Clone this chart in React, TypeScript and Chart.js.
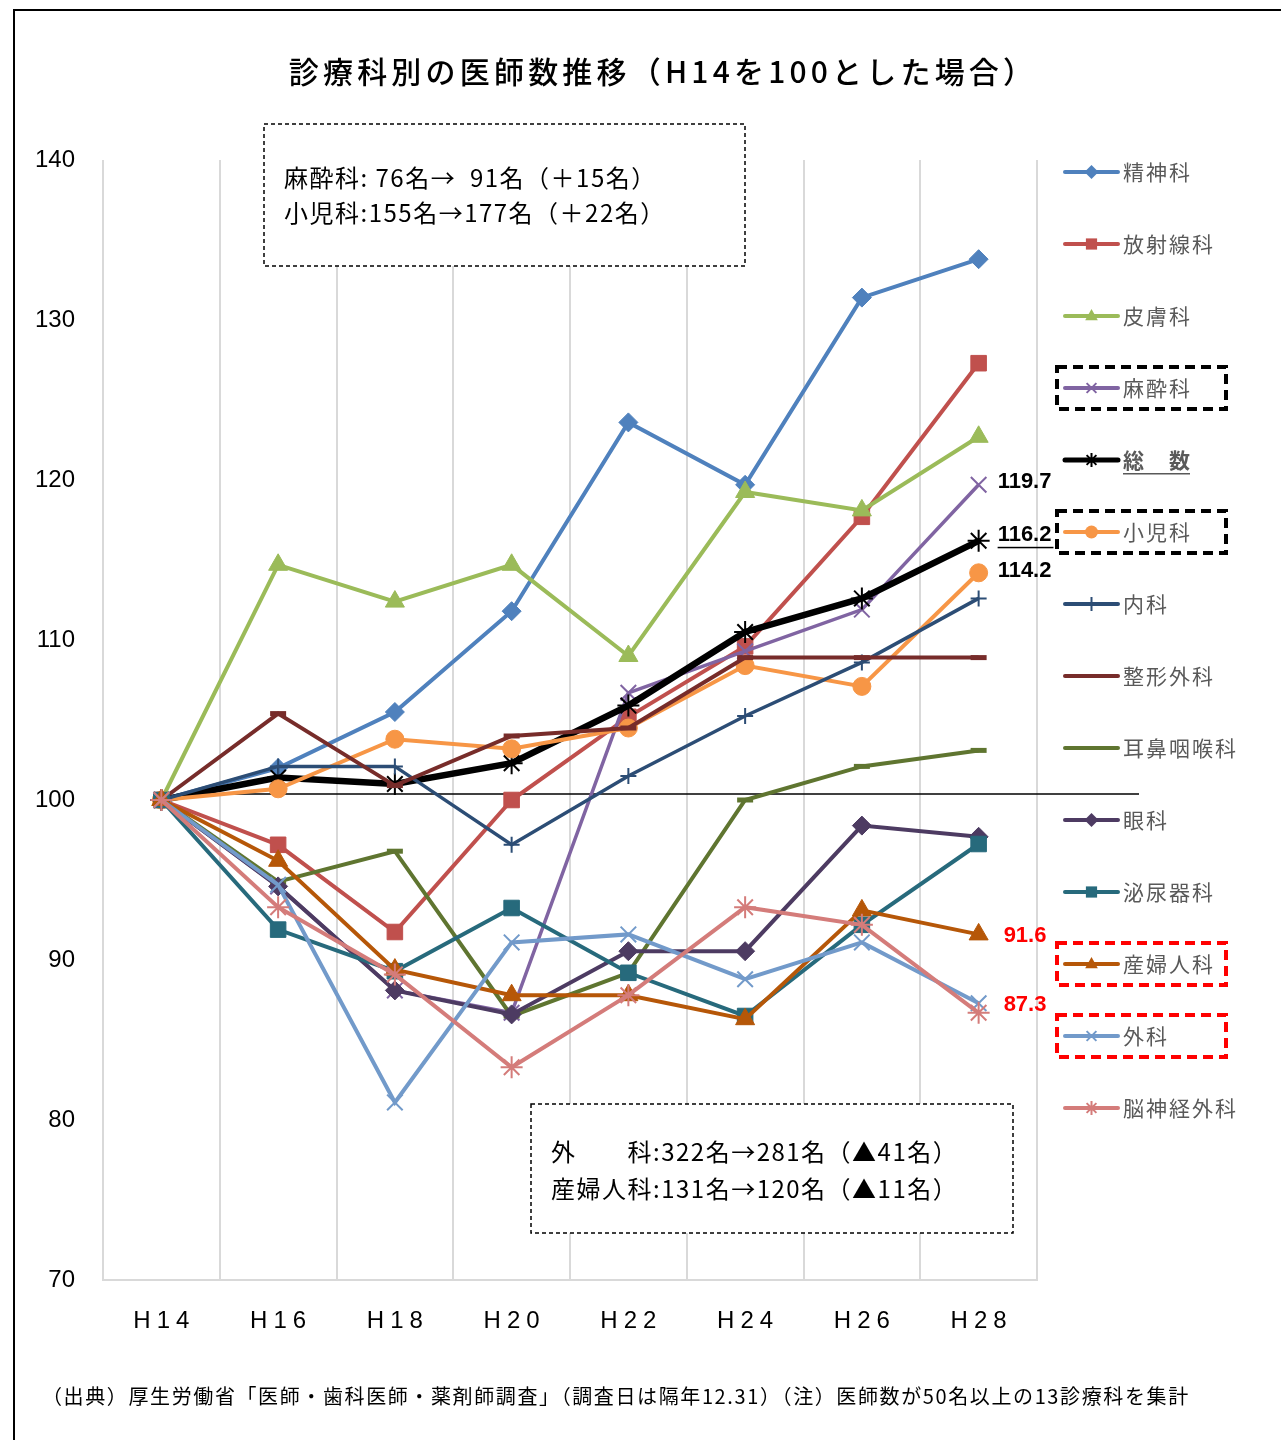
import React, { useEffect, useRef } from "react";
import { Chart, registerables } from "chart.js";

Chart.register(...registerables);

const categories = ["H14", "H16", "H18", "H20", "H22", "H24", "H26", "H28"];
const yTickValues = [70, 80, 90, 100, 110, 120, 130, 140];

const seriesNames = [
  "精神科", "放射線科", "皮膚科", "麻酔科", "総　数", "小児科", "内科",
  "整形外科", "耳鼻咽喉科", "眼科", "泌尿器科", "産婦人科", "外科", "脳神経外科",
];

const psychiatry = [100, 102.0, 105.5, 111.8, 123.6, 119.7, 131.4, 133.8];
const radiology = [100, 97.2, 91.75, 100.0, 105.2, 109.6, 117.7, 127.3];
const dermatology = [100, 114.7, 112.4, 114.7, 109.0, 119.25, 118.1, 122.7];
const anesthesiology = [100, 94.6, 88.1, 86.7, 106.7, 109.3, 111.9, 119.7];
const total = [100, 101.4, 101.0, 102.3, 105.9, 110.5, 112.6, 116.2];
const pediatrics = [100, 100.7, 103.8, 103.2, 104.5, 108.4, 107.1, 114.2];
const internal = [100, 102.1, 102.1, 97.2, 101.5, 105.25, 108.6, 112.6];
const orthopedics = [100, 105.4, 100.9, 104.0, 104.5, 108.9, 108.9, 108.9];
const ent = [100, 94.9, 96.8, 86.5, 89.2, 100.0, 102.1, 103.1];
const ophthalmology = [100, 94.6, 88.1, 86.6, 90.55, 90.55, 98.4, 97.7];
const urology = [100, 91.9, 89.3, 93.25, 89.2, 86.5, 92.2, 97.25];
const obstetrics = [100, 96.2, 89.4, 87.8, 87.8, 86.3, 93.1, 91.6];
const surgery = [100, 94.7, 81.1, 91.1, 91.6, 88.8, 91.1, 87.3];
const neurosurgery = [100, 93.3, 89.1, 83.3, 87.8, 93.3, 92.2, 86.7];

const seriesValues = [
  psychiatry, radiology, dermatology, anesthesiology, total, pediatrics, internal,
  orthopedics, ent, ophthalmology, urology, obstetrics, surgery, neurosurgery,
];

const seriesColors = [
  "#4F81BD", "#C0504D", "#9BBB59", "#8064A2", "#000000", "#F79646", "#2C4D75",
  "#772C2A", "#5F7530", "#4D3B62", "#276A7C", "#B65708", "#729ACA", "#D47C7A",
];
const seriesMarkers = [
  "rectRot", "rect", "triangle", "crossRot", "star", "circle", "cross",
  "line", "line", "rectRot", "rect", "triangle", "crossRot", "star",
];
const markerRadius = [9.5, 11, 11, 11, 11, 9, 8, 8, 8, 9.5, 11, 11, 11, 11];
const lineWidths = [4, 4, 4, 3.5, 6.5, 4, 3.5, 4, 4, 4, 4, 4, 4, 4];

const titleText = "診療科別の医師数推移（H14を100とした場合）";
const topBoxLines = ["麻酔科: 76名→  91名（＋15名）", "小児科:155名→177名（＋22名）"];
const bottomBoxLines = ["外　　科:322名→281名（▲41名）", "産婦人科:131名→120名（▲11名）"];
const footerText = "（出典）厚生労働省「医師・歯科医師・薬剤師調査」（調査日は隔年12.31）（注）医師数が50名以上の13診療科を集計";

// labels at the right end: [series index, color, underline]
const endLabels: [number, string, boolean][] = [
  [3, "#000000", false],
  [4, "#000000", true],
  [5, "#000000", false],
  [11, "#FF0000", false],
  [12, "#FF0000", false],
];

const legendBoxes: [number, string][] = [
  [3, "#000000"],
  [5, "#000000"],
  [11, "#FF0000"],
  [12, "#FF0000"],
];

const JP = '"Noto Sans CJK JP", "Noto Sans", sans-serif';
const NUM = '"Liberation Sans", Arial, sans-serif';

function drawMarker(ctx: CanvasRenderingContext2D, style: string, x: number, y: number, r: number, color: string) {
  ctx.save();
  ctx.fillStyle = color;
  ctx.strokeStyle = color;
  ctx.lineWidth = 2;
  ctx.beginPath();
  if (style === "rectRot") {
    ctx.moveTo(x, y - r); ctx.lineTo(x + r, y); ctx.lineTo(x, y + r); ctx.lineTo(x - r, y); ctx.closePath(); ctx.fill();
  } else if (style === "rect") {
    ctx.fillRect(x - r * 0.8, y - r * 0.8, r * 1.6, r * 1.6);
  } else if (style === "triangle") {
    ctx.moveTo(x, y - r); ctx.lineTo(x + r * 0.9, y + r * 0.6); ctx.lineTo(x - r * 0.9, y + r * 0.6); ctx.closePath(); ctx.fill();
  } else if (style === "circle") {
    ctx.arc(x, y, r, 0, Math.PI * 2); ctx.fill();
  } else if (style === "crossRot") {
    ctx.moveTo(x - r * 0.7, y - r * 0.7); ctx.lineTo(x + r * 0.7, y + r * 0.7);
    ctx.moveTo(x + r * 0.7, y - r * 0.7); ctx.lineTo(x - r * 0.7, y + r * 0.7); ctx.stroke();
  } else if (style === "cross") {
    ctx.moveTo(x, y - r); ctx.lineTo(x, y + r); ctx.stroke();
  } else if (style === "star") {
    ctx.moveTo(x - r * 0.7, y - r * 0.7); ctx.lineTo(x + r * 0.7, y + r * 0.7);
    ctx.moveTo(x + r * 0.7, y - r * 0.7); ctx.lineTo(x - r * 0.7, y + r * 0.7);
    ctx.moveTo(x, y - r); ctx.lineTo(x, y + r); ctx.stroke();
  }
  ctx.restore();
}

const decorPlugin = {
  id: "decor",
  beforeDraw(chart: any) {
    const ctx: CanvasRenderingContext2D = chart.ctx;
    ctx.save();
    ctx.fillStyle = "#FFFFFF";
    ctx.fillRect(0, 0, chart.width, chart.height);
    ctx.restore();
  },
  beforeDatasetsDraw(chart: any) {
    const ctx: CanvasRenderingContext2D = chart.ctx;
    const xs = chart.scales.x;
    const ys = chart.scales.y;
    ctx.save();
    ctx.strokeStyle = "#000000";
    ctx.lineWidth = 1.5;
    const y100 = ys.getPixelForValue(100) - 6;
    ctx.beginPath();
    ctx.moveTo(xs.getPixelForValue(0) + 52, y100);
    ctx.lineTo(1139, y100);
    ctx.stroke();
    ctx.restore();
  },
  afterDraw(chart: any) {
    const ctx: CanvasRenderingContext2D = chart.ctx;
    const xs = chart.scales.x;
    const ys = chart.scales.y;
    ctx.save();
    // outer frame
    ctx.strokeStyle = "#000000";
    ctx.lineWidth = 2;
    ctx.beginPath();
    ctx.moveTo(14, chart.height);
    ctx.lineTo(14, 10);
    ctx.lineTo(chart.width, 10);
    ctx.stroke();

    // title
    ctx.fillStyle = "#000000";
    ctx.font = `500 30px ${JP}`;
    (ctx as any).letterSpacing = "4.2px";
    ctx.textAlign = "center";
    ctx.textBaseline = "middle";
    ctx.fillText(titleText, 663, 72);
    (ctx as any).letterSpacing = "0px";

    // x tick labels
    ctx.font = `24px ${NUM}`;
    (ctx as any).letterSpacing = "6px";
    ctx.textAlign = "center";
    categories.forEach((c, i) => {
      ctx.fillText(c, xs.getPixelForValue(i) + 3, 1321);
    });
    (ctx as any).letterSpacing = "0px";

    // text boxes
    const box = (x0: number, y0: number, x1: number, y1: number, lines: string[], tx: number, ty: number[]) => {
      ctx.save();
      ctx.fillStyle = "#FFFFFF";
      ctx.fillRect(x0, y0, x1 - x0, y1 - y0);
      ctx.setLineDash([4, 3]);
      ctx.lineWidth = 1.5;
      ctx.strokeStyle = "#000000";
      ctx.strokeRect(x0, y0, x1 - x0, y1 - y0);
      ctx.restore();
      ctx.fillStyle = "#000000";
      ctx.font = `24px ${JP}`;
      (ctx as any).letterSpacing = "1.5px";
      ctx.textAlign = "left";
      ctx.textBaseline = "middle";
      lines.forEach((l, i) => ctx.fillText(l, tx, ty[i]));
      (ctx as any).letterSpacing = "0px";
    };
    box(264, 124, 745, 266, topBoxLines, 284, [178, 213]);
    box(531, 1104, 1013, 1233, bottomBoxLines, 551, [1152, 1189]);

    // end labels
    ctx.font = `bold 22px ${NUM}`;
    ctx.textAlign = "left";
    ctx.textBaseline = "middle";
    endLabels.forEach(([si, color, ul]) => {
      const v = seriesValues[si][seriesValues[si].length - 1];
      const x = xs.getPixelForValue(categories.length - 1) + (color === "#000000" ? 19 : 25);
      let y = ys.getPixelForValue(v);
      if (si === 3) y -= 3;
      if (si === 4) y -= 6;
      if (si === 5) y -= 2;
      if (si === 11) y += 2;
      if (si === 12) y += 2;
      ctx.fillStyle = color;
      const label = v.toFixed(1);
      ctx.fillText(label, x, y);
      if (ul) {
        const w = ctx.measureText(label).width;
        ctx.fillRect(x, y + 12, w + 2, 1.5);
      }
    });

    // legend
    const lx0 = 1065, lx1 = 1118;
    seriesNames.forEach((name, i) => {
      const ly = 172 + 72 * i;
      ctx.save();
      ctx.strokeStyle = seriesColors[i];
      ctx.lineWidth = i === 4 ? 5 : 4;
      ctx.lineCap = "round";
      ctx.beginPath();
      ctx.moveTo(lx0, ly);
      ctx.lineTo(lx1, ly);
      ctx.stroke();
      ctx.restore();
      const st = seriesMarkers[i];
      if (st !== "line") drawMarker(ctx, st, (lx0 + lx1) / 2, ly, st === "circle" ? 6.5 : 7, seriesColors[i]);
      ctx.fillStyle = "#595959";
      ctx.font = i === 4 ? `bold 21px ${JP}` : `21px ${JP}`;
      (ctx as any).letterSpacing = "2px";
      ctx.textAlign = "left";
      ctx.textBaseline = "middle";
      ctx.fillText(name, 1123, ly);
      if (i === 4) {
        const w = ctx.measureText(name).width;
        ctx.fillRect(1123, ly + 13, w - 2, 1.5);
      }
      (ctx as any).letterSpacing = "0px";
    });
    legendBoxes.forEach(([i, color]) => {
      const ly = 172 + 72 * i;
      ctx.save();
      ctx.strokeStyle = color;
      ctx.lineWidth = 4;
      ctx.setLineDash([10, 6]);
      ctx.strokeRect(1057, ly - 21, 169, 42);
      ctx.restore();
    });

    // footer, fitted to the reference width
    ctx.fillStyle = "#000000";
    ctx.font = `20px ${JP}`;
    ctx.textAlign = "left";
    ctx.textBaseline = "middle";
    const w0 = ctx.measureText(footerText).width;
    const nChars = Array.from(footerText).length;
    const ls = (1148 - w0) / nChars;
    (ctx as any).letterSpacing = `${ls.toFixed(2)}px`;
    ctx.fillText(footerText, 42, 1396);
    (ctx as any).letterSpacing = "0px";
    ctx.restore();
  },
};

export default function App() {
  const ref = useRef<HTMLCanvasElement | null>(null);
  useEffect(() => {
    if (!ref.current) return;
    const n = seriesNames.length;
    const chart = new Chart(ref.current, {
      type: "line",
      data: {
        labels: categories,
        datasets: seriesNames.map((name, i) => ({
          label: name,
          data: seriesValues[i],
          borderColor: seriesColors[i],
          backgroundColor: seriesColors[i],
          pointBackgroundColor: seriesColors[i],
          pointBorderColor: seriesColors[i],
          pointStyle: seriesMarkers[i] as any,
          pointRadius: markerRadius[i],
          pointBorderWidth: ["crossRot", "cross", "star", "line"].includes(seriesMarkers[i]) ? (seriesMarkers[i] === "line" ? 5 : 2) : 1,
          borderWidth: lineWidths[i],
          tension: 0,
          fill: false,
          order: n - i,
        })),
      },
      options: {
        responsive: false,
        animation: false,
        devicePixelRatio: 1,
        layout: { padding: { left: 0, top: 160, right: 244, bottom: 0 } },
        plugins: { legend: { display: false }, tooltip: { enabled: false }, title: { display: false } },
        scales: {
          x: {
            offset: true,
            grid: { display: true, color: "#D9D9D9", lineWidth: 2, offset: true, drawTicks: false },
            border: { display: true, color: "#D9D9D9", width: 2 },
            ticks: { display: false },
            afterFit: (s: any) => { s.height = 160; },
          },
          y: {
            min: 70,
            max: 140,
            afterBuildTicks: (s: any) => { s.ticks = yTickValues.map((v) => ({ value: v })); },
            grid: { display: false, drawTicks: false },
            border: { display: false },
            ticks: { color: "#000000", font: { size: 24, family: NUM }, padding: 28 },
            afterFit: (s: any) => { s.width = 103; },
          },
        },
      },
      plugins: [decorPlugin],
    });
    return () => chart.destroy();
  }, []);
  return (
    <div style={{ position: "absolute", left: 0, top: 0, width: 1281, height: 1440, background: "#fff" }}>
      <canvas ref={ref} width={1281} height={1440} style={{ width: 1281, height: 1440, display: "block" }} />
    </div>
  );
}
